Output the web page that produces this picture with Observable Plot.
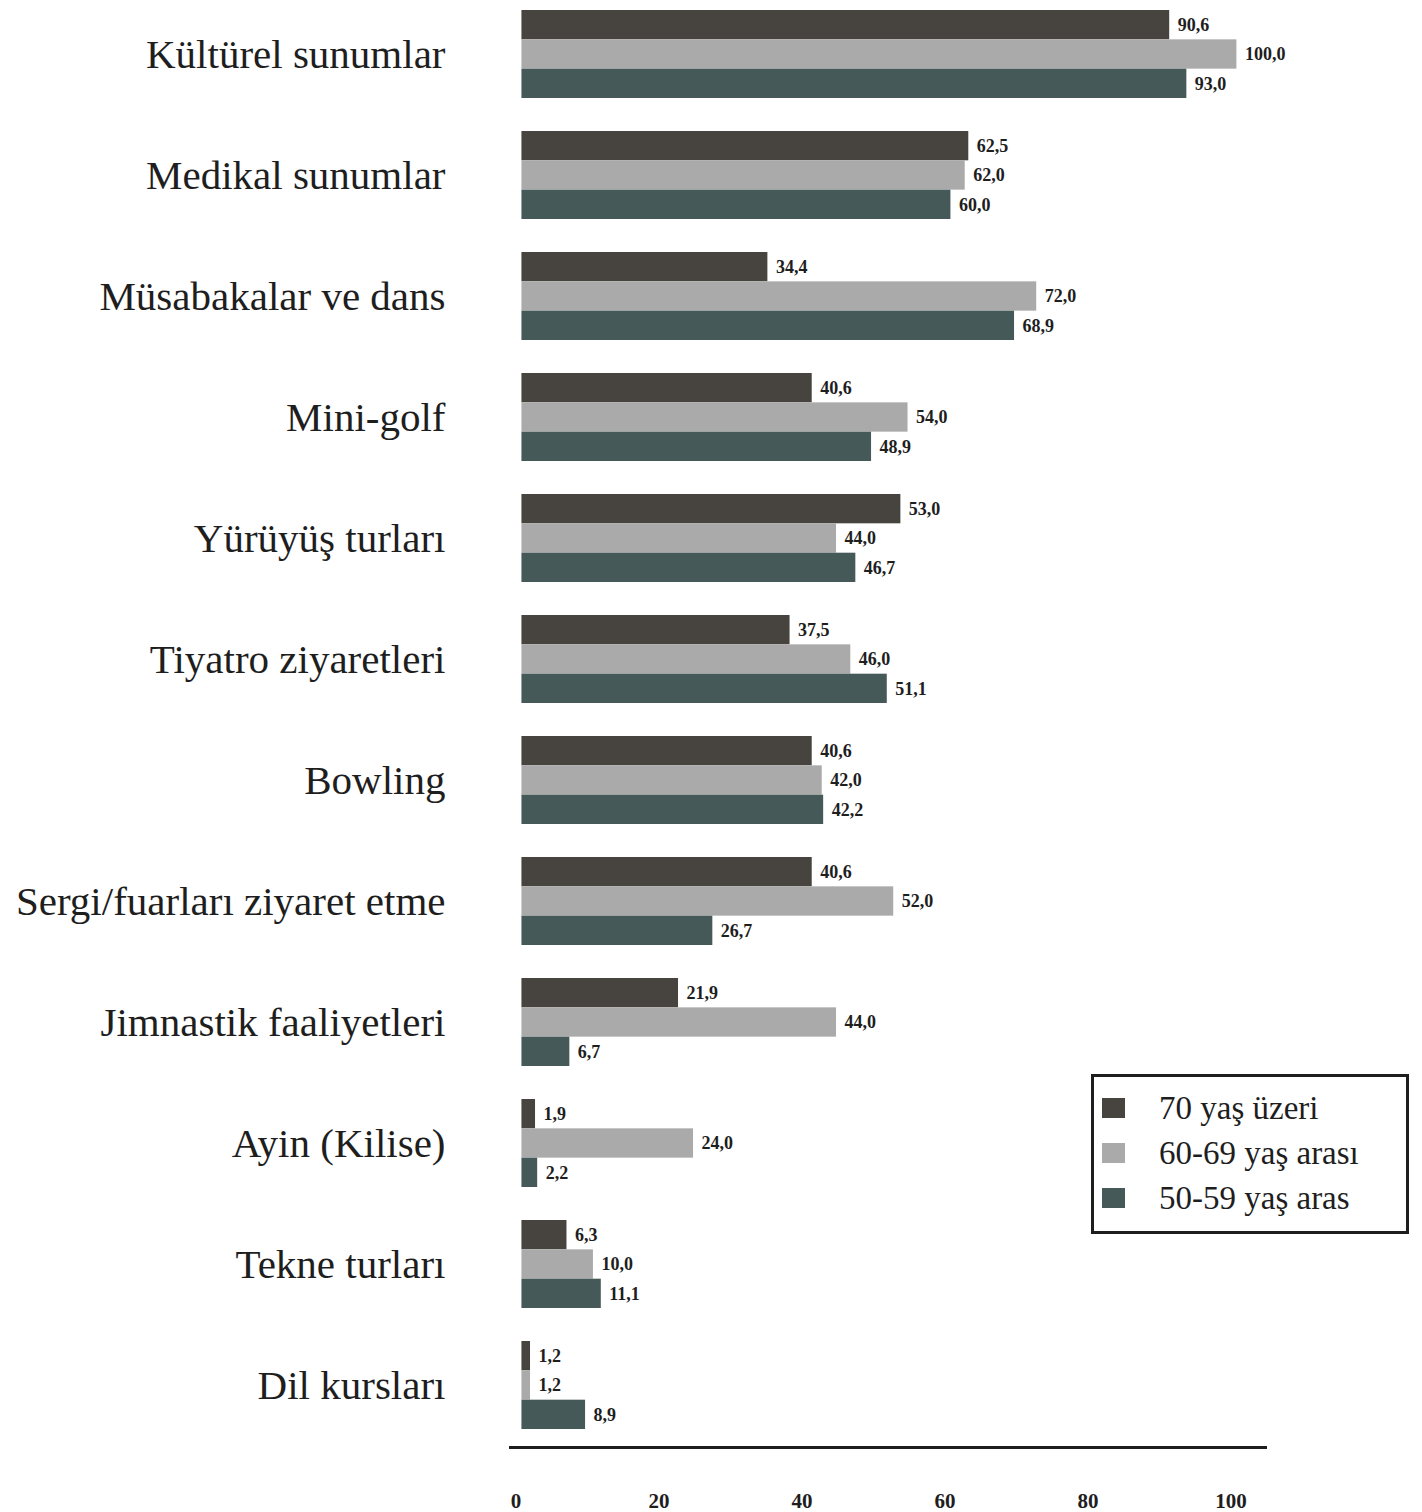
<!DOCTYPE html>
<html>
<head>
<meta charset="utf-8">
<script src="https://cdn.jsdelivr.net/npm/d3@7"></script>
<script src="https://cdn.jsdelivr.net/npm/@observablehq/plot@0.6"></script>
<style>
  html, body { margin: 0; padding: 0; background: #fff; }
  #wrap { position: relative; width: 1422px; height: 1512px; overflow: hidden; }
  #legend {
    position: absolute; left: 1091px; top: 1074px; width: 312px; height: 154px;
    border: 3px solid #1e1e1e; background: #fff; box-sizing: content-box;
    font-family: "Liberation Serif", serif; font-size: 33px; color: #1e1e1e;
  }
  #legend .row { position: absolute; left: 8px; height: 40px; display: flex; align-items: center; }
  #legend .sw { width: 23px; height: 20px; margin-right: 34px; }
  #wrap svg line, #wrap svg path { stroke: #1e1e1e; stroke-width: 3px; }
</style>
</head>
<body>
<div id="wrap"></div>
<script>
const categories = [
  "Kültürel sunumlar", "Medikal sunumlar", "Müsabakalar ve dans", "Mini-golf",
  "Yürüyüş turları", "Tiyatro ziyaretleri", "Bowling", "Sergi/fuarları ziyaret etme",
  "Jimnastik faaliyetleri", "Ayin (Kilise)", "Tekne turları", "Dil kursları"
];
const series = ["70 yaş üzeri", "60-69 yaş arası", "50-59 yaş aras"];
const colors = ["#47433e", "#aaaaaa", "#465959"];
const over70 = [90.6, 62.5, 34.4, 40.6, 53.0, 37.5, 40.6, 40.6, 21.9, 1.9, 6.3, 1.2];
const age6069 = [100.0, 62.0, 72.0, 54.0, 44.0, 46.0, 42.0, 52.0, 44.0, 24.0, 10.0, 1.2];
const age5059 = [93.0, 60.0, 68.9, 48.9, 46.7, 51.1, 42.2, 26.7, 6.7, 2.2, 11.1, 8.9];
const xTicks = [0, 20, 40, 60, 80, 100];

const seriesValues = [over70, age6069, age5059];
const data = [];
seriesValues.forEach((vals, si) => vals.forEach((v, ci) => data.push({category: categories[ci], series: series[si], si, value: v})));

const W = 1422, H = 1512;
const yTop = 9, yBottom = 1429, padInner = 0.273;
const step = (yBottom - yTop) / (categories.length - padInner);
const bw = step * (1 - padInner);
const third = bw / 3;
const fmt = v => v.toFixed(1).replace(".", ",");

const marks = [];
series.forEach((s, i) => {
  const sub = data.filter(d => d.si === i);
  marks.push(Plot.barX(sub, {
    x: "value", y: "category", fill: colors[i],
    insetTop: i * third, insetBottom: (2 - i) * third
  }));
  marks.push(Plot.text(sub, {
    x: "value", y: "category", text: d => fmt(d.value),
    dy: (i - 1) * third, dx: 8, textAnchor: "start",
    fontFamily: "Liberation Serif, serif", fontWeight: "bold", fontSize: 18, fill: "#1e1e1e"
  }));
});
marks.push(Plot.text(categories, {
  y: d => d, text: d => d, frameAnchor: "left", dx: -65, textAnchor: "end",
  fontFamily: "Liberation Serif, serif", fontSize: 41, fill: "#1e1e1e"
}));
marks.push(Plot.text(xTicks, {
  x: d => d, text: d => String(d), frameAnchor: "bottom", dx: -6, dy: 60,
  fontFamily: "Liberation Serif, serif", fontWeight: "bold", fontSize: 21, fill: "#1e1e1e"
}));

const chart = Plot.plot({
  width: W, height: H,
  marginLeft: 510, marginRight: 157, marginTop: 0, marginBottom: 65,
  x: { domain: [-1.6, 104], ticks: xTicks, tickFormat: () => "", tickSize: 0, line: true, label: null },
  y: { domain: categories, range: [yTop, yBottom], paddingInner: padInner, paddingOuter: 0, axis: null },
  style: { background: "#fff", overflow: "visible" },
  marks
});
const wrap = document.getElementById("wrap");
wrap.appendChild(chart);

const legend = document.createElement("div");
legend.id = "legend";
series.forEach((s, i) => {
  const row = document.createElement("div");
  row.className = "row";
  row.style.top = (11 + i * 45) + "px";
  row.innerHTML = `<span class="sw" style="background:${colors[i]}"></span><span>${s}</span>`;
  legend.appendChild(row);
});
wrap.appendChild(legend);
</script>
</body>
</html>
